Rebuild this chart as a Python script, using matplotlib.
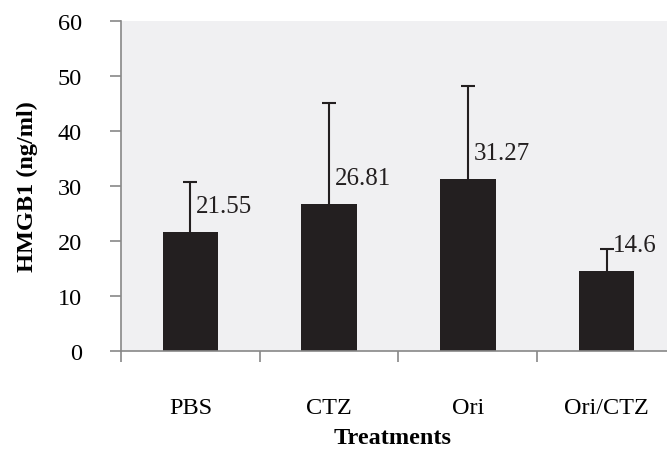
import matplotlib
matplotlib.use('Agg')
import matplotlib.pyplot as plt
import numpy as np

categories = ['PBS', 'CTZ', 'Ori', 'Ori/CTZ']
values = [21.55, 26.81, 31.27, 14.6]
errors = [9.1, 18.2, 16.9, 3.9]
labels = ['21.55', '26.81', '31.27', '14.6']
yticks = [0, 10, 20, 30, 40, 50, 60]

plt.rcParams['font.family'] = ['Liberation Serif', 'DejaVu Serif']

fig = plt.figure(figsize=(6.67, 4.6), dpi=100)
ax = fig.add_axes([0.1814, 0.2348, 0.832, 0.7174])
ax.set_facecolor('#f0f0f2')

x = np.arange(len(categories))
tops = np.array(values) + np.array(errors)
ax.bar(x, values, width=0.4, color='#231f20', zorder=2)
# upper error bars only, with a cap at the top
ax.vlines(x, values, tops, color='#231f20', linewidth=1.5, zorder=3)
ax.scatter(x, tops, marker='_', s=110, linewidths=1.5, color='#231f20', zorder=3)

# value labels just right of the error bar
for xi, v, lab in zip(x, values, labels):
    ax.annotate(lab, (xi, v), xytext=(6, 26), textcoords='offset pixels',
                ha='left', va='center', fontsize=18, color='#231f20')

ax.set_xlim(-0.5, 3.5)
ax.set_ylim(0, 60)
ax.set_yticks(yticks)
ax.set_yticklabels([str(t) for t in yticks], fontsize=17.5)
ax.set_xticks(x)
ax.set_xticklabels(categories, fontsize=17.5)
ax.set_xticks(np.arange(-0.5, 4, 1.0), minor=True)
ax.tick_params(axis='x', which='major', length=0, pad=33)
ax.tick_params(axis='x', which='minor', length=8, width=1.2, color='#888888')
ax.tick_params(axis='y', length=8, width=1.2, color='#888888', pad=20)

for s in ['top', 'right']:
    ax.spines[s].set_visible(False)
for s in ['left', 'bottom']:
    ax.spines[s].set_color('#888888')
    ax.spines[s].set_linewidth(1.2)

ax.set_ylabel('HMGB1 (ng/ml)', fontsize=17.5, fontweight='bold')
ax.yaxis.set_label_coords(-0.15, 0.5)
ax.set_xlabel('Treatments', fontsize=17.5, fontweight='bold')
ax.xaxis.set_label_coords(0.49, -0.23)

fig.savefig('out.png', dpi=100)
